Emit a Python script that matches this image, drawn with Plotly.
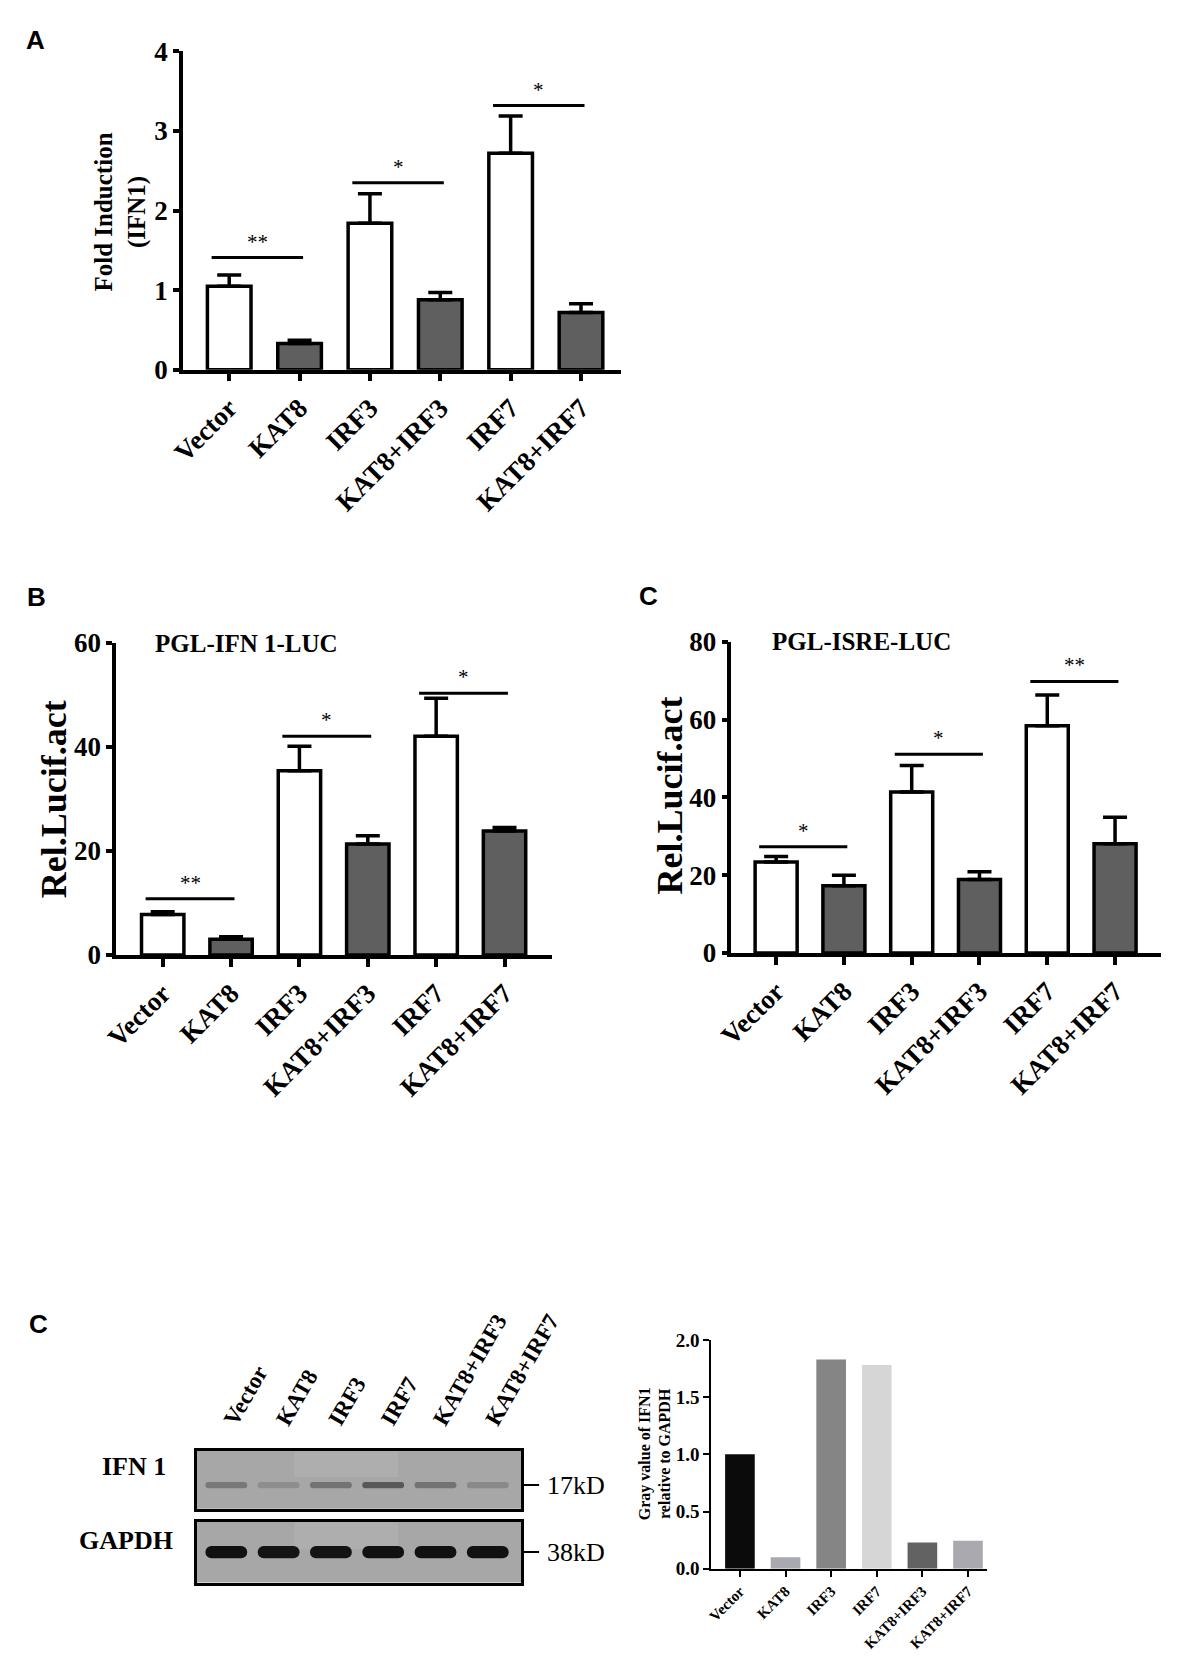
import plotly.graph_objects as go

W, H = 1199, 1672

groups = ["Vector", "KAT8", "IRF3", "KAT8+IRF3", "IRF7", "KAT8+IRF7"]

# panel A - fold induction (IFN1): bar means and top of error bars
a_mean = [1.05, 0.33, 1.84, 0.88, 2.72, 0.72]
a_upper = [1.19, 0.37, 2.21, 0.97, 3.19, 0.83]
a_sig_y = [1.41, 2.35, 3.32]
a_sig = ["**", "*", "*"]

# panel B - PGL-IFN 1-LUC
b_mean = [7.8, 3.0, 35.4, 21.3, 42.0, 23.8]
b_upper = [8.3, 3.5, 40.1, 22.9, 49.3, 24.5]
b_sig_y = [10.8, 42.0, 50.3]
b_sig = ["**", "*", "*"]

# panel C - PGL-ISRE-LUC
c_mean = [23.4, 17.3, 41.4, 18.9, 58.4, 28.1]
c_upper = [24.8, 20.0, 48.2, 20.9, 66.3, 34.9]
c_sig_y = [27.3, 51.1, 69.8]
c_sig = ["*", "*", "**"]

# western blot lanes, band darkness 0..1
blot_lanes = ["Vector", "KAT8", "IRF3", "IRF7", "KAT8+IRF3", "KAT8+IRF7"]
ifn1_band = [0.45, 0.25, 0.5, 0.75, 0.5, 0.3]
gapdh_band = [0.97, 0.95, 0.95, 0.97, 0.97, 0.97]

# densitometry of the blot
gray_value = [1.0, 0.10, 1.83, 1.78, 0.23, 0.245]
gray_colors = ["#0b0b0b", "#a9a9b1", "#858585", "#d6d6d6", "#626262", "#a9a9af"]

SERIF = "Liberation Serif"
SANS = "Liberation Sans"
fills = ["white", "#5f5f5f"] * 3


def xd(a, b):
    return [a / W, b / W]


def yd(top, bot):
    return [1 - bot / H, 1 - top / H]


fig = go.Figure()
annotations = []
shapes = []


def bar_panel(n, mean, upper, sig_y, sig, xdom, ydom, xr, yr, tickstep):
    xa = "x" if n == 1 else f"x{n}"
    ya = "y" if n == 1 else f"y{n}"
    pos = list(range(len(groups)))
    fig.add_trace(go.Bar(
        x=pos, y=mean, xaxis=xa, yaxis=ya, width=0.62,
        marker=dict(color=fills, line=dict(color="black", width=3.5)),
        error_y=dict(type="data", symmetric=False,
                     array=[u - m for u, m in zip(upper, mean)],
                     arrayminus=[0] * len(mean),
                     color="black", thickness=3.5, width=12),
        showlegend=False))
    for k, (yv, s) in enumerate(zip(sig_y, sig)):
        i, j = 2 * k, 2 * k + 1
        fig.add_trace(go.Scatter(
            x=[i - 0.25, j + 0.05], y=[yv, yv], xaxis=xa, yaxis=ya,
            mode="lines", line=dict(color="black", width=3),
            showlegend=False, hoverinfo="skip"))
        annotations.append(dict(
            x=(i + j) / 2 - 0.1, y=yv, xref=xa, yref=ya, text=s,
            showarrow=False, yanchor="bottom", yshift=2,
            font=dict(family=SERIF, size=21, color="black")))
    axis_common = dict(showline=True, linewidth=3.5, linecolor="black",
                       ticks="outside", tickwidth=3.5,
                       tickcolor="black", showgrid=False, zeroline=False)
    fig.update_layout(**{
        ("xaxis" if n == 1 else f"xaxis{n}"): dict(
            domain=xdom, range=xr, anchor=ya, tickvals=pos, ticktext=groups,
            tickangle=-45, ticklen=8,
            tickfont=dict(family=SERIF, size=27, color="black", weight="bold"),
            **axis_common),
        ("yaxis" if n == 1 else f"yaxis{n}"): dict(
            domain=ydom, range=yr, anchor=xa, dtick=tickstep, ticklen=6,
            tickfont=dict(family=SERIF, size=27, color="black", weight="bold"),
            **axis_common),
    })


bar_panel(1, a_mean, a_upper, a_sig_y, a_sig,
          xd(167, 628), yd(29, 353), [-0.66, 5.57], [0, 4], 1)
bar_panel(2, b_mean, b_upper, b_sig_y, b_sig,
          xd(97, 555), yd(631, 949), [-0.68, 5.69], [0, 60], 20)
bar_panel(3, c_mean, c_upper, c_sig_y, c_sig,
          xd(744, 1196), yd(630, 947), [-0.66, 5.68], [0, 80], 20)

# western blot strips
lane_pos = list(range(len(blot_lanes)))


def band_color(d, bg=170, dark=12):
    v = int(round(bg - (bg - dark) * d))
    return f"rgb({v},{v},{v})"


fig.add_trace(go.Bar(
    x=lane_pos, y=[0.11] * 6, base=0.355, width=0.8, xaxis="x4", yaxis="y4",
    marker=dict(color=[band_color(d, dark=60) for d in ifn1_band],
                line=dict(width=0), cornerradius=3),
    showlegend=False))
fig.add_trace(go.Bar(
    x=lane_pos, y=[0.2] * 6, base=0.4, width=0.8, xaxis="x5", yaxis="y5",
    marker=dict(color=[band_color(d) for d in gapdh_band],
                line=dict(width=0), cornerradius=7),
    showlegend=False))

blot_axis = dict(showline=True, mirror=True, linewidth=2.5, linecolor="black",
                 showgrid=False, zeroline=False, ticks="")
fig.update_layout(
    xaxis4=dict(domain=xd(182, 523), range=[-0.56, 5.64], anchor="y4",
                side="top", tickvals=lane_pos, ticktext=blot_lanes,
                tickangle=-60, ticklabelstandoff=6,
                tickfont=dict(family=SERIF, size=23, color="black", weight="bold"),
                **blot_axis),
    yaxis4=dict(domain=yd(1454, 1513), range=[0, 1], anchor="x4",
                showticklabels=False, **blot_axis),
    xaxis5=dict(domain=xd(182, 523), range=[-0.56, 5.64], anchor="y5",
                showticklabels=False, **blot_axis),
    yaxis5=dict(domain=yd(1526, 1588), range=[0, 1], anchor="x5",
                showticklabels=False, **blot_axis),
)
for ax, yv, kd in [("4", 0.41, "17kD"), ("5", 0.5, "38kD")]:
    shapes.append(dict(type="rect", xref=f"x{ax} domain", yref=f"y{ax} domain",
                       x0=0, x1=1, y0=0, y1=1, fillcolor="#a7a7a7",
                       line=dict(width=0), layer="below"))
    shapes.append(dict(type="rect", xref=f"x{ax} domain", yref=f"y{ax} domain",
                       x0=0.3, x1=0.62, y0=0.55, y1=1, fillcolor="#bdbdbd",
                       opacity=0.35, line=dict(width=0), layer="below"))
    shapes.append(dict(type="line", xref=f"x{ax} domain", yref=f"y{ax}",
                       x0=1, x1=1.055, y0=yv, y1=yv,
                       line=dict(color="black", width=2)))
    annotations.append(dict(x=548 / W, xref="paper", y=yv, yref=f"y{ax}",
                            text=kd, showarrow=False, xanchor="left",
                            font=dict(family=SERIF, size=26, color="black")))
annotations.append(dict(x=151 / W, y=1 - 1487 / H, xref="paper", yref="paper",
                        text="IFN 1", showarrow=False, xanchor="right",
                        font=dict(family=SERIF, size=26, color="black", weight="bold")))
annotations.append(dict(x=159 / W, y=1 - 1562 / H, xref="paper", yref="paper",
                        text="GAPDH", showarrow=False, xanchor="right",
                        font=dict(family=SERIF, size=26, color="black", weight="bold")))

# densitometry bar chart
fig.add_trace(go.Bar(
    x=lane_pos, y=gray_value, width=0.65, xaxis="x6", yaxis="y6",
    marker=dict(color=gray_colors, line=dict(width=0)), showlegend=False))
small_axis = dict(showline=True, linewidth=2, linecolor="black", ticks="outside",
                  ticklen=6, tickwidth=2, tickcolor="black",
                  showgrid=False, zeroline=False)
fig.update_layout(
    xaxis6=dict(domain=xd(723, 1013), range=[-0.625, 5.42], anchor="y6",
                tickvals=lane_pos, ticktext=blot_lanes, tickangle=-45,
                tickfont=dict(family=SERIF, size=15, color="black", weight="bold"),
                **small_axis),
    yaxis6=dict(domain=yd(1341, 1574), range=[0, 2], anchor="x6", dtick=0.5,
                tickformat=".1f",
                tickfont=dict(family=SERIF, size=19, color="black", weight="bold"),
                **small_axis),
)

# axis titles, panel titles and letters
def label(x, y, text, size, angle=0, family=SERIF, anchor="center"):
    annotations.append(dict(x=x / W, y=1 - y / H, xref="paper", yref="paper",
                            text=text, showarrow=False, textangle=angle,
                            xanchor=anchor, yanchor="middle",
                            font=dict(family=family, size=size, color="black",
                                      weight="bold")))


label(102, 192, "Fold Induction<br>(IFN1)", 25, -90)
label(31, 790, "Rel.Lucif.act", 36, -90)
label(679, 787, "Rel.Lucif.act", 36, -90)
label(663, 1457, "Gray value of IFN1<br>relative to GAPDH", 16, -90)
label(136, 632, "PGL-IFN 1-LUC", 25, anchor="left")
label(785, 630, "PGL-ISRE-LUC", 25, anchor="left")
label(0, 17, "A", 26, family=SANS, anchor="left")
label(1, 584, "B", 26, family=SANS, anchor="left")
label(645, 583, "C", 26, family=SANS, anchor="left")
label(3, 1325, "C", 26, family=SANS, anchor="left")

fig.update_layout(
    width=W, height=H, margin=dict(l=0, r=0, t=0, b=0),
    paper_bgcolor="white", plot_bgcolor="rgba(0,0,0,0)",
    bargap=0.3, annotations=annotations, shapes=shapes,
)

fig.write_html("out.html")
